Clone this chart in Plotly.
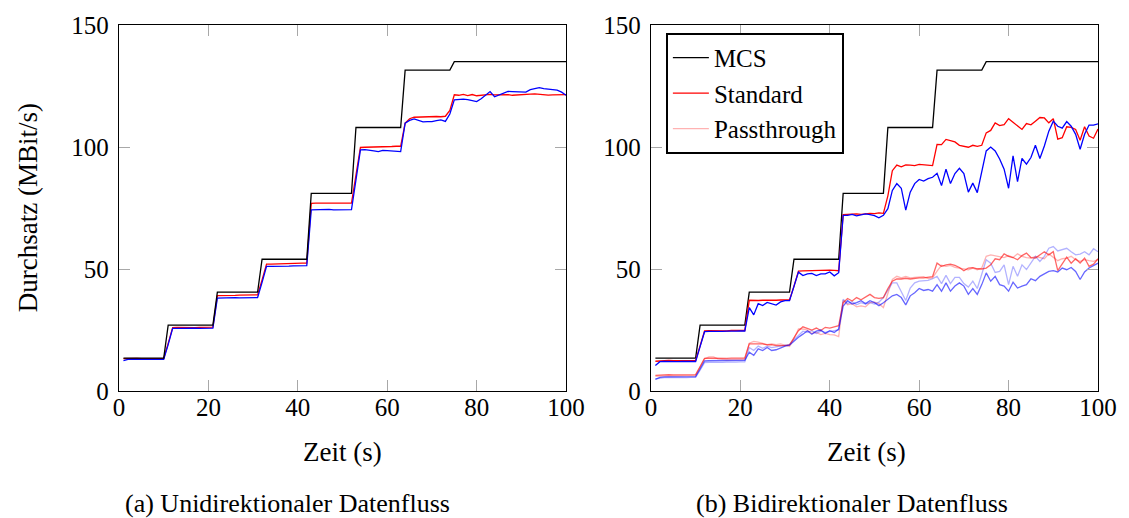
import plotly.graph_objects as go

TIME = list(range(1, 101))

MCS = [13.5, 13.5, 13.5, 13.5, 13.5, 13.5, 13.5, 13.5, 13.5, 13.5,
       27, 27, 27, 27, 27, 27, 27, 27, 27, 27,
       27, 40.5, 40.5, 40.5, 40.5, 40.5, 40.5, 40.5, 40.5, 40.5,
       40.5, 54, 54, 54, 54, 54, 54, 54, 54, 54,
       54, 54, 81, 81, 81, 81, 81, 81, 81, 81,
       81, 81, 108, 108, 108, 108, 108, 108, 108, 108,
       108, 108, 108, 131.5, 131.5, 131.5, 131.5, 131.5, 131.5, 131.5,
       131.5, 131.5, 131.5, 131.5, 135, 135, 135, 135, 135, 135,
       135, 135, 135, 135, 135, 135, 135, 135, 135, 135,
       135, 135, 135, 135, 135, 135, 135, 135, 135, 135]

UNI_STANDARD = [13.3, 13.4, 13.3, 13.4, 13.3, 13.3, 13.4, 13.3, 13.3, 13.4,
                19.5, 26.0, 26.1, 26.0, 26.1, 26.1, 26.0, 26.1, 26.2, 26.1,
                26.2, 39.1, 39.2, 39.2, 39.3, 39.2, 39.3, 39.3, 39.4, 39.3,
                39.4, 45.5, 52.0, 52.0, 52.1, 52.1, 52.2, 52.2, 52.3, 52.3,
                52.4, 52.4, 76.9, 77.0, 77.0, 77.1, 77.0, 77.1, 77.1, 77.0,
                77.1, 77.0, 88.5, 99.8, 99.9, 99.9, 100.0, 100.0, 100.1, 100.1,
                100.2, 100.3, 100.3, 109.8, 111.6, 112.2, 112.3, 112.4, 112.3, 112.4,
                112.5, 112.4, 112.6, 115.0, 121.4, 121.2, 121.6, 121.1, 121.5, 121.0,
                121.3, 121.5, 121.6, 121.4, 121.5, 121.3, 121.5, 121.2, 121.4, 121.3,
                121.6, 121.7, 121.8, 121.6, 121.5, 121.3, 121.4, 121.5, 121.6, 121.5]

UNI_BLUE = [12.4, 13.0, 13.1, 13.0, 13.0, 13.1, 13.0, 13.0, 13.1, 13.0,
            19.0, 25.7, 25.7, 25.8, 25.7, 25.8, 25.8, 25.7, 25.8, 25.9,
            25.8, 38.1, 38.2, 38.2, 38.2, 38.3, 38.2, 38.3, 38.3, 38.2,
            38.3, 44.5, 51.1, 51.1, 51.2, 51.2, 51.3, 51.2, 51.3, 51.3,
            51.4, 51.4, 74.2, 74.3, 74.2, 74.3, 74.4, 74.2, 74.3, 74.2,
            74.3, 74.3, 86.5, 98.8, 98.9, 98.8, 98.4, 98.1, 98.6, 98.5,
            98.3, 98.1, 98.1, 109.8, 110.9, 111.5, 111.0, 110.3, 110.4, 110.4,
            110.8, 111.1, 110.5, 113.5, 119.3, 119.5, 119.6, 119.4, 119.0, 118.6,
            119.8, 121.4, 122.7, 120.6, 121.3, 122.1, 122.8, 122.7, 122.6, 122.5,
            122.5, 123.5, 123.8, 124.3, 123.9, 123.6, 123.5, 123.3, 122.5, 121.2]

BI_STANDARD = [12.2, 12.4, 12.4, 12.5, 12.4, 12.4, 12.5, 12.4, 12.4, 12.5,
               18.5, 24.6, 24.7, 24.6, 24.7, 24.7, 24.6, 24.8, 24.7, 24.8,
               24.8, 37.2, 37.0, 37.1, 37.2, 37.1, 37.2, 37.2, 37.3, 37.2,
               37.3, 43.0, 49.1, 49.2, 49.3, 49.2, 49.4, 49.3, 49.4, 49.5,
               49.4, 49.3, 72.3, 72.5, 72.4, 72.6, 72.4, 72.7, 72.8, 72.7,
               73.0, 72.8, 80.0, 90.3, 92.6, 91.9, 92.7, 92.6, 92.4, 92.9,
               92.8, 92.7, 92.4, 101.1, 101.0, 103.1, 102.5, 102.1, 100.7, 100.3,
               99.9, 100.7, 100.3, 100.7, 105.8, 106.8, 109.9, 108.8, 109.2, 111.6,
               110.2, 108.8, 107.2, 109.6, 109.1, 110.6, 112.1, 111.9, 109.9, 111.6,
               103.2, 103.8, 108.3, 108.0, 107.2, 102.8, 108.3, 104.5, 103.6, 107.4]

BI_BLUE = [10.5, 12.0, 12.1, 12.0, 12.1, 12.0, 12.1, 12.1, 12.0, 12.1,
           18.2, 24.3, 24.4, 24.3, 24.5, 24.4, 24.5, 24.4, 24.5, 24.6,
           24.6, 34.2, 31.2, 35.8, 35.0, 36.3, 35.8, 35.2, 36.5, 37.0,
           37.0, 42.5, 48.7, 47.3, 48.0, 48.2, 47.3, 48.0, 48.0, 48.8,
           47.2, 48.5, 72.0, 72.0, 72.4, 71.8, 72.2, 72.6, 72.3, 71.9,
           71.0, 72.0, 74.7, 82.2, 85.0, 83.1, 74.1, 81.5, 85.0, 86.7,
           86.0, 87.0, 87.6, 89.2, 84.2, 90.9, 85.0, 89.1, 91.3, 89.1,
           81.5, 85.2, 81.3, 90.3, 98.4, 100.0, 98.4, 95.1, 90.9, 83.1,
           96.4, 85.8, 95.3, 93.0, 95.7, 100.7, 95.3, 100.4, 106.5, 110.6,
           108.5, 107.7, 110.4, 108.5, 105.2, 99.1, 105.2, 109.0, 109.0, 109.5]

BI_STANDARD_DIR = [6.4, 6.6, 6.6, 6.7, 6.6, 6.6, 6.7, 6.6, 6.7, 6.7,
                   10.0, 13.4, 13.5, 13.4, 13.5, 13.4, 13.4, 13.5, 13.4, 13.4,
                   13.5, 19.3, 19.3, 19.0, 19.3, 18.9, 19.0, 18.6, 18.5, 18.6,
                   18.9, 22.0, 24.7, 26.3, 25.8, 25.0, 25.8, 24.8, 26.1, 25.8,
                   26.3, 26.8, 36.2, 37.9, 36.9, 38.3, 37.4, 38.6, 39.6, 38.3,
                   38.0, 38.3, 42.0, 45.0, 45.9, 45.9, 46.2, 45.9, 46.2, 46.4,
                   46.4, 46.6, 46.9, 52.4, 51.1, 51.7, 52.0, 51.5, 50.6, 49.3,
                   50.4, 50.6, 50.1, 50.0, 50.4, 51.7, 54.2, 53.8, 56.2, 55.2,
                   54.7, 53.8, 55.5, 56.5, 54.7, 54.5, 55.8, 57.1, 55.8, 57.1,
                   49.3, 52.4, 54.9, 52.4, 54.2, 52.4, 54.5, 51.1, 52.0, 54.2]

BI_PASSTHROUGH = [6.0, 6.2, 6.3, 6.3, 6.2, 6.3, 6.3, 6.2, 6.3, 6.3,
                  10.0, 13.2, 14.0, 14.0, 13.2, 12.9, 12.8, 12.9, 13.0, 12.9,
                  13.0, 19.6, 20.3, 20.0, 19.6, 19.0, 19.3, 19.0, 19.3, 18.6,
                  18.2, 21.5, 25.4, 25.4, 25.0, 23.6, 24.0, 23.1, 23.6, 23.1,
                  23.0, 22.3, 37.2, 35.3, 35.8, 34.5, 34.9, 34.5, 36.2, 36.4,
                  35.8, 34.2, 40.2, 45.7, 47.0, 46.4, 47.0, 46.4, 46.6, 46.6,
                  46.9, 46.1, 46.4, 49.1, 51.5, 51.1, 51.5, 50.7, 50.4, 50.0,
                  49.7, 50.4, 49.7, 50.4, 55.2, 55.8, 55.5, 55.2, 54.7, 55.5,
                  54.7, 56.2, 55.2, 54.7, 54.5, 55.2, 54.7, 54.2, 56.2, 54.7,
                  53.4, 54.2, 54.5, 55.2, 53.8, 53.1, 53.8, 53.4, 53.1, 53.8]

BI_BLUE_DIR = [4.8, 5.6, 5.8, 5.8, 5.9, 5.8, 5.9, 5.9, 5.8, 5.9,
               9.0, 12.3, 12.4, 12.4, 12.5, 12.4, 12.5, 12.4, 12.5, 12.6,
               12.6, 15.9, 14.6, 17.3, 16.6, 17.8, 16.6, 16.9, 17.8, 18.4,
               18.8, 20.5, 22.0, 23.3, 24.7, 23.3, 24.5, 25.0, 23.6, 24.7,
               24.0, 25.4, 34.8, 37.0, 35.6, 36.2, 37.0, 35.8, 37.0, 36.2,
               35.0, 36.2, 37.6, 39.0, 39.6, 38.3, 35.3, 39.0, 40.3, 42.0,
               41.2, 41.6, 40.9, 43.6, 40.9, 44.3, 40.9, 43.0, 44.3, 43.0,
               39.6, 42.0, 39.6, 43.6, 48.4, 45.0, 47.0, 43.6, 43.0, 40.9,
               44.6, 42.2, 43.0, 43.6, 46.0, 45.2, 47.0, 47.9, 49.0, 49.3,
               48.8, 50.4, 49.7, 50.6, 49.0, 45.7, 48.8, 50.4, 51.5, 52.4]

BI_BLUE_PASSTHROUGH = [5.0, 5.4, 5.5, 5.6, 5.5, 5.6, 5.6, 5.5, 5.6, 5.6,
                       8.5, 11.6, 11.7, 11.6, 11.8, 11.7, 11.8, 11.7, 11.8, 11.9,
                       11.9, 17.8, 16.6, 18.4, 17.5, 18.4, 17.8, 18.1, 18.4, 18.8,
                       19.1, 21.0, 22.7, 24.5, 24.0, 24.7, 23.6, 24.5, 24.0, 24.5,
                       24.7, 25.0, 37.6, 35.8, 36.6, 35.3, 36.2, 35.6, 36.2, 35.6,
                       36.4, 38.3, 41.6, 44.3, 44.3, 40.5, 37.1, 42.2, 44.3, 45.0,
                       45.0, 45.3, 46.0, 47.0, 44.0, 47.4, 44.0, 46.6, 46.6, 44.0,
                       42.6, 45.0, 42.0, 48.4, 53.8, 52.4, 48.6, 49.0, 51.7, 43.6,
                       51.1, 47.0, 51.7, 49.8, 52.4, 55.2, 53.1, 55.2, 58.5, 59.2,
                       57.4, 57.8, 58.5, 57.1, 55.8, 56.1, 57.1, 55.8, 58.3, 57.1]

X_TICKS = [0, 20, 40, 60, 80, 100]
Y_TICKS = [0, 50, 100, 150]
Y_TITLE = "Durchsatz (MBit/s)"
X_TITLE = "Zeit (s)"
CAPTION_A = "(a) Unidirektionaler Datenfluss"
CAPTION_B = "(b) Bidirektionaler Datenfluss"

FONT = "'Liberation Serif', 'DejaVu Serif', serif"
FS = 25
FS_TITLE = 27
FS_CAP = 26
FS_LEG = 25
LW = 1.3

fig = go.Figure()

def line(y, color, xa, ya, name=None, show=False, width=LW):
    fig.add_trace(go.Scatter(x=TIME, y=y, mode="lines", name=name, showlegend=show,
                             line=dict(color=color, width=width), xaxis=xa, yaxis=ya,
                             hoverinfo="skip"))

# left panel
line(UNI_STANDARD, "#ff0000", "x", "y")
line(UNI_BLUE, "#0000ff", "x", "y")
line(MCS, "#000000", "x", "y")

# right panel (legend order: MCS, Standard, Passthrough)
line(MCS, "#000000", "x2", "y2", name="MCS", show=True)
line(BI_STANDARD, "#ff0000", "x2", "y2", name="Standard", show=True)
line(BI_PASSTHROUGH, "rgba(255,0,0,0.3)", "x2", "y2", name="Passthrough", show=True)
line(BI_BLUE_PASSTHROUGH, "rgba(0,0,255,0.3)", "x2", "y2")
line(BI_STANDARD_DIR, "rgba(255,0,0,0.6)", "x2", "y2")
line(BI_BLUE_DIR, "rgba(0,0,255,0.6)", "x2", "y2")
line(BI_BLUE, "#0000ff", "x2", "y2")

axis_common = dict(range=[0, 100], tickvals=X_TICKS, ticks="inside", ticklen=11,
                   tickcolor="#a8a8a8", tickwidth=1.3, showline=True, linecolor="#000000",
                   linewidth=1.3, mirror="ticks", showgrid=False, zeroline=False,
                   tickfont=dict(family=FONT, size=FS, color="#000000"), ticklabelstandoff=-6)
yaxis_common = dict(axis_common)
yaxis_common.update(range=[0, 150], tickvals=Y_TICKS, ticklabelstandoff=4)

L_DOM = [0, 448 / 981]
R_DOM = [533 / 981, 1]

def px_x(p):
    return (p - 119) / 981

def px_y(p):
    return (391 - p) / 370

fig.update_layout(
    width=1129, height=518,
    margin=dict(l=119, r=29, t=21, b=127),
    paper_bgcolor="white", plot_bgcolor="white",
    xaxis=dict(axis_common, domain=L_DOM, anchor="y"),
    yaxis=dict(yaxis_common, domain=[0, 1], anchor="x"),
    xaxis2=dict(axis_common, domain=R_DOM, anchor="y2"),
    yaxis2=dict(yaxis_common, domain=[0, 1], anchor="x2"),
    showlegend=True,
    legend=dict(x=px_x(667), y=px_y(29), xanchor="left", yanchor="top",
                bgcolor="white", bordercolor="#000000", borderwidth=2,
                font=dict(family=FONT, size=FS_LEG, color="#000000"),
                tracegroupgap=0, itemwidth=36),
    annotations=[
        dict(text=Y_TITLE, x=px_x(28), y=0.5, xref="paper", yref="paper",
             textangle=-90, showarrow=False, xanchor="center", yanchor="middle",
             font=dict(family=FONT, size=FS_TITLE, color="#000000")),
        dict(text=X_TITLE, x=px_x(343), y=px_y(453), xref="paper", yref="paper",
             showarrow=False, xanchor="center", yanchor="middle",
             font=dict(family=FONT, size=FS_TITLE, color="#000000")),
        dict(text=X_TITLE, x=px_x(868), y=px_y(453), xref="paper", yref="paper",
             showarrow=False, xanchor="center", yanchor="middle",
             font=dict(family=FONT, size=FS_TITLE, color="#000000")),
        dict(text=CAPTION_A, x=px_x(288), y=px_y(505), xref="paper", yref="paper",
             showarrow=False, xanchor="center", yanchor="middle",
             font=dict(family=FONT, size=FS_CAP, color="#000000")),
        dict(text=CAPTION_B, x=px_x(853), y=px_y(505), xref="paper", yref="paper",
             showarrow=False, xanchor="center", yanchor="middle",
             font=dict(family=FONT, size=FS_CAP, color="#000000")),
    ],
)

fig.write_html("out.html", config={"displayModeBar": False},
               post_script="document.body.style.margin='0px';")
